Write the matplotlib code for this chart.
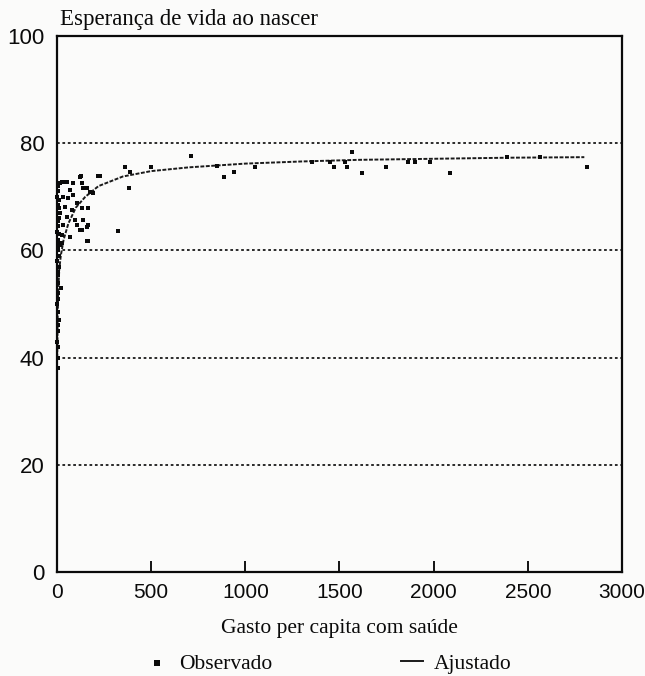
import matplotlib
matplotlib.use('Agg')
import matplotlib.pyplot as plt

# Observado: gasto per capita (x) e esperança de vida (y)
obs_x = [228, 324, 361, 382, 388, 499, 711, 850, 887, 940, 1051, 1354, 1450, 1471,
         1529, 1540, 1566, 1620, 1747, 1864, 1901, 1981, 2087, 2389, 2565, 2814,
         127, 218, 16, 42, 85, 132, 69, 138, 175, 191, 32, 58, 85, 106, 42, 80, 132,
         16, 53, 96, 138, 32, 106, 165, 132, 27, 69, 159, 27, 159, 165, 159, 122,
         165, 53, 27, 122,
         3, 6, 2, 8, 4, 10, 5, 12, 3, 7, 2, 9, 4, 6, 15, 3, 5, 8, 2, 11, 4, 6, 3,
         20, 5, 7, 2, 4, 9, 3, 6, 2, 5, 4, 3]
obs_y = [73.9, 63.7, 75.6, 71.6, 74.6, 75.6, 77.6, 75.7, 73.7, 74.6, 75.6, 76.5, 76.5, 75.6,
         76.5, 75.6, 78.4, 74.4, 75.6, 76.5, 76.5, 76.5, 74.4, 77.4, 77.4, 75.6,
         73.9, 73.9, 72.6, 72.8, 72.6, 72.6, 71.3, 71.6, 70.9, 70.7, 70.0, 69.8, 70.3, 68.8,
         68.1, 67.5, 67.9, 67.0, 66.2, 65.7, 65.7, 64.7, 64.7, 64.7, 63.8, 62.9, 62.5, 61.8,
         61.4, 71.6, 67.9, 64.4, 63.8, 61.8, 72.8, 72.8, 73.7,
         72, 71, 70, 69.5, 68.5, 68, 67, 66, 65.5, 64.5, 63.5, 63, 62, 61.5, 61, 60.5, 60,
         59, 58, 57, 56, 55.5, 54, 53, 52, 51, 50, 48.5, 47, 46, 45, 43, 42, 40, 38]

# Ajustado (curva)
fit_x = [1, 3, 6, 12, 20, 35, 60, 100, 150, 220, 350, 500, 700, 1000, 1300, 1600, 2000, 2400, 2800]
fit_y = [40, 47, 52, 56.5, 59, 62, 65, 68, 70, 72, 73.8, 74.8, 75.5, 76.2, 76.6, 76.9, 77.1, 77.3, 77.4]

x_ticks = [0, 500, 1000, 1500, 2000, 2500, 3000]
y_ticks = [0, 20, 40, 60, 80, 100]

serif = ['Liberation Serif', 'DejaVu Serif']
sans = ['Liberation Sans', 'DejaVu Sans']
ink = '#0a0a0a'

fig = plt.figure(figsize=(6.45, 6.76), dpi=100, facecolor='#fbfbfa')
ax = fig.add_axes([0.0884, 0.1538, 0.8759, 0.7929])
ax.set_facecolor('#fbfbfa')

for g in [20, 40, 60, 80]:
    ax.axhline(g, color='#1a1a1a', lw=1.3, ls=(0, (1.5, 1.5)), zorder=1)

ln, = ax.plot(fit_x, fit_y, color='#1a1a1a', lw=1.4, ls=(0, (2, 0.8)), zorder=2, label='Ajustado')
sc = ax.scatter(obs_x, obs_y, marker='s', s=11, color=ink, lw=0, zorder=3,
                clip_on=False, label='Observado')

ax.set_xlim(0, 3000)
ax.set_ylim(0, 100)
ax.set_xticks(x_ticks)
ax.set_yticks(y_ticks)
ax.tick_params(axis='x', direction='in', length=8, width=1.3, pad=8, labelsize=15)
ax.tick_params(axis='y', length=0, pad=9, labelsize=16)
for lab in ax.get_xticklabels() + ax.get_yticklabels():
    lab.set_family(sans)
    lab.set_color(ink)
for s in ax.spines.values():
    s.set_linewidth(1.6)
    s.set_color(ink)

ax.text(0.006, 1.012, 'Esperança de vida ao nascer', transform=ax.transAxes,
        ha='left', va='bottom', fontsize=16.5, family=serif, color=ink)
ax.set_xlabel('Gasto per capita com saúde', fontsize=15.5, family=serif, color=ink, labelpad=12)

leg = fig.legend(handles=[sc, ln], loc='center', bbox_to_anchor=(0.51, 0.018), ncol=2,
                 frameon=False, columnspacing=6.0, handlelength=1.0, handletextpad=0.5,
                 markerscale=1.3, prop={'family': serif, 'size': 15.5})
for t in leg.get_texts():
    t.set_color(ink)
leg.get_lines()[0].set_linestyle('-')

fig.savefig('out.png', dpi=100, facecolor=fig.get_facecolor())
